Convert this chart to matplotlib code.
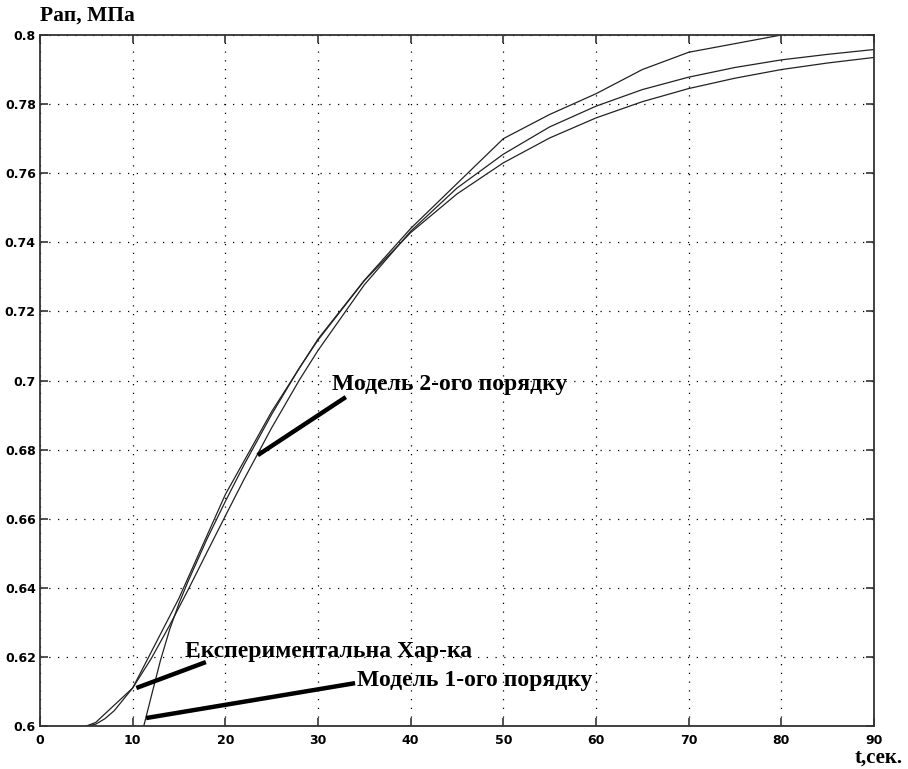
import matplotlib
matplotlib.use("Agg")
import matplotlib.pyplot as plt

# ---- data ----
t_exp = [5, 6, 7, 8, 9, 10, 15, 20, 25, 30, 35, 40, 45, 50, 55, 60, 65, 70, 75, 80]
p_exp = [0.600, 0.601, 0.6035, 0.606, 0.6085, 0.611, 0.637, 0.667, 0.691, 0.712,
         0.729, 0.744, 0.757, 0.770, 0.777, 0.783, 0.790, 0.795, 0.7975, 0.800]

t_m2 = [5, 6, 7, 8, 10, 12, 14, 16, 18, 20, 22, 25, 28, 30, 35, 40, 45, 50,
        55, 60, 65, 70, 75, 80, 85, 90]
p_m2 = [0.600, 0.6005, 0.6021, 0.6044, 0.6110, 0.6195, 0.6292, 0.6395, 0.6502,
        0.6608, 0.6713, 0.6863, 0.7002, 0.7087, 0.7277, 0.7432, 0.7557, 0.7655,
        0.7734, 0.7794, 0.7842, 0.7878, 0.7906, 0.7928, 0.7944, 0.7958]

t_m1 = [11.2, 12, 13, 14, 15, 16, 18, 20, 22, 25, 28, 30, 35, 40, 45, 50,
        55, 60, 65, 70, 75, 80, 85, 90]
p_m1 = [0.600, 0.6085, 0.619, 0.628, 0.6355, 0.642, 0.654, 0.665, 0.6755,
        0.6902, 0.7037, 0.7117, 0.7289, 0.7428, 0.7540, 0.7630, 0.7702,
        0.7760, 0.7807, 0.7845, 0.7875, 0.7900, 0.7919, 0.7935]

x_ticks = [0, 10, 20, 30, 40, 50, 60, 70, 80, 90]
y_ticks = [0.60, 0.62, 0.64, 0.66, 0.68, 0.70, 0.72, 0.74, 0.76, 0.78, 0.80]
y_tick_labels = ["0.6", "0.62", "0.64", "0.66", "0.68", "0.7",
                 "0.72", "0.74", "0.76", "0.78", "0.8"]

labels = ["Модель 2-ого порядку", "Експериментальна Хар-ка", "Модель 1-ого порядку"]
label_xy = [(31.5, 0.6987), (15.6, 0.6215), (34.2, 0.6132)]
pointer_from = [(23.5, 0.6784), (10.4, 0.6110), (11.45, 0.6023)]
pointer_to = [(33.0, 0.6952), (17.9, 0.6185), (34.0, 0.6124)]

ylabel = "Рап, МПа"
xlabel = "t,сек."

# ---- figure ----
W, H = 908, 769
fig = plt.figure(figsize=(W / 100, H / 100), dpi=100)
ax = fig.add_axes([40 / W, 1 - 726 / H, (874 - 40) / W, (726 - 35) / H])

line_kw = dict(color="#222222", lw=0.9)
ax.plot(t_exp, p_exp, **line_kw)
ax.plot(t_m2, p_m2, **line_kw)
ax.plot(t_m1, p_m1, **line_kw)

ax.set_xlim(0, 90)
ax.set_ylim(0.6, 0.8)
ax.set_xticks(x_ticks)
ax.set_yticks(y_ticks)
ax.set_yticklabels(y_tick_labels)

ax.grid(True, color="black", linestyle=(0, (1, 6)), lw=0.9)
for s in ax.spines.values():
    s.set_color("#333333")
    s.set_linewidth(1.3)

ax.tick_params(direction="in", length=6, width=1.2, color="#333333",
               top=True, right=True, labelsize=9)
for lab in ax.get_xticklabels() + ax.get_yticklabels():
    lab.set_fontweight("bold")
    lab.set_family("DejaVu Sans")
ax.tick_params(axis="x", pad=6)
ax.tick_params(axis="y", pad=3)

ann_font = dict(family="Liberation Serif", fontweight="bold", fontsize=17, color="black")
for (x0, y0), (x1, y1) in zip(pointer_from, pointer_to):
    ax.plot([x0, x1], [y0, y1], color="black", lw=3.2, solid_capstyle="butt", clip_on=False)
for (lx, ly), txt in zip(label_xy, labels):
    ax.text(lx, ly, txt, ha="left", va="center", **ann_font)

fig.text(40 / W, 1 - 16 / H, ylabel, ha="left", va="center",
         family="Liberation Serif", fontweight="bold", fontsize=15.5)
fig.text(903 / W, 1 - 758 / H, xlabel, ha="right", va="center",
         family="Liberation Serif", fontweight="bold", fontsize=15)

fig.savefig("out.png", dpi=100)
